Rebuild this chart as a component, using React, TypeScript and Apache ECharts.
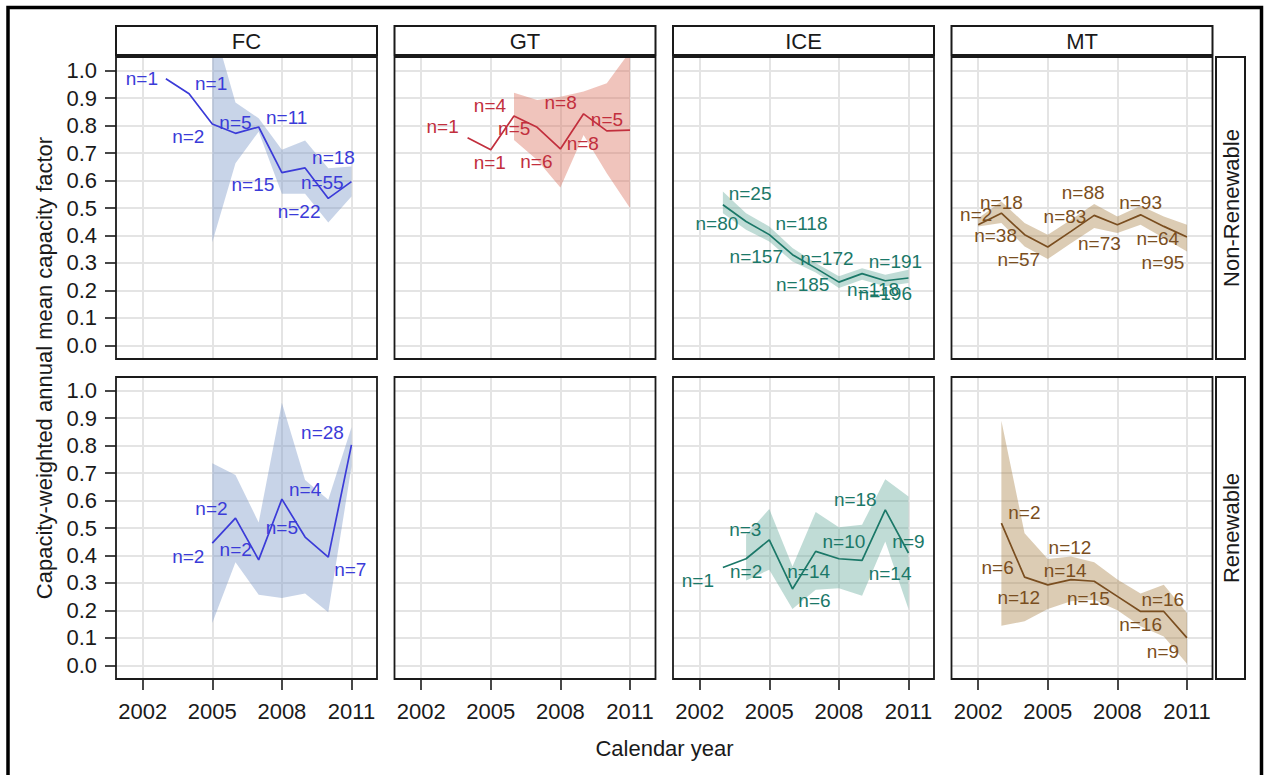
import React, { useEffect, useRef } from "react";
import * as echarts from "echarts";

const FONT = "'Liberation Sans', Arial, Helvetica, sans-serif";

// Facets
const techTypes = ["FC", "GT", "ICE", "MT"];
const resourceGroups = ["Non-Renewable", "Renewable"];
const xTickYears = [2002, 2005, 2008, 2011];
const yTickValues = [0, 0.1, 0.2, 0.3, 0.4, 0.5, 0.6, 0.7, 0.8, 0.9, 1.0];
const xTitle = "Calendar year";
const yTitle = "Capacity-weighted annual mean capacity factor";

// FC, Non-Renewable
const fcNrYears = [2003, 2004, 2005, 2006, 2007, 2008, 2009, 2010, 2011];
const fcNrMean = [0.971, 0.916, 0.806, 0.772, 0.795, 0.629, 0.646, 0.535, 0.596];
const fcNrCount = [1, 1, 2, 5, 11, 15, 22, 55, 18];
const fcNrBandYears = [2005, 2006, 2007, 2008, 2009, 2010, 2011];
const fcNrLower = [0.375, 0.663, 0.778, 0.552, 0.552, 0.447, 0.542];
const fcNrUpper = [1.18, 0.884, 0.827, 0.712, 0.746, 0.645, 0.651];

// GT, Non-Renewable
const gtNrYears = [2004, 2005, 2006, 2007, 2008, 2009, 2010, 2011];
const gtNrMean = [0.756, 0.712, 0.835, 0.794, 0.715, 0.843, 0.781, 0.784];
const gtNrCount = [1, 1, 4, 5, 6, 8, 8, 5];
const gtNrBandYears = [2006, 2007, 2008, 2009, 2010, 2011];
const gtNrLower = [0.748, 0.675, 0.575, 0.766, 0.627, 0.5];
const gtNrUpper = [0.92, 0.893, 0.905, 0.924, 0.954, 1.07];

// ICE, Non-Renewable
const iceNrYears = [2003, 2004, 2005, 2006, 2007, 2008, 2009, 2010, 2011];
const iceNrMean = [0.512, 0.451, 0.403, 0.33, 0.281, 0.23, 0.261, 0.235, 0.245];
const iceNrCount = [80, 25, 157, 118, 185, 172, 118, 196, 191];
const iceNrBandYears = [2003, 2004, 2005, 2006, 2007, 2008, 2009, 2010, 2011];
const iceNrLower = [0.481, 0.421, 0.378, 0.305, 0.265, 0.209, 0.239, 0.215, 0.227];
const iceNrUpper = [0.56, 0.481, 0.433, 0.354, 0.3, 0.251, 0.281, 0.257, 0.275];

// MT, Non-Renewable
const mtNrYears = [2002, 2003, 2004, 2005, 2006, 2007, 2008, 2009, 2010, 2011];
const mtNrMean = [0.439, 0.481, 0.403, 0.358, 0.415, 0.473, 0.439, 0.475, 0.433, 0.394];
const mtNrCount = [2, 18, 38, 57, 83, 88, 73, 93, 64, 95];
const mtNrBandYears = [2002, 2003, 2004, 2005, 2006, 2007, 2008, 2009, 2010, 2011];
const mtNrLower = [0.433, 0.445, 0.36, 0.314, 0.372, 0.427, 0.409, 0.439, 0.391, 0.342];
const mtNrUpper = [0.463, 0.524, 0.445, 0.403, 0.457, 0.515, 0.469, 0.508, 0.469, 0.439];

// FC, Renewable
const fcRYears = [2005, 2006, 2007, 2008, 2009, 2010, 2011];
const fcRMean = [0.445, 0.536, 0.384, 0.605, 0.467, 0.394, 0.803];
const fcRCount = [2, 2, 2, 5, 4, 7, 28];
const fcRBandYears = [2005, 2006, 2007, 2008, 2009, 2010, 2011];
const fcRLower = [0.154, 0.375, 0.257, 0.245, 0.261, 0.193, 0.724];
const fcRUpper = [0.736, 0.693, 0.52, 0.956, 0.675, 0.603, 0.867];

// ICE, Renewable
const iceRYears = [2003, 2004, 2005, 2006, 2007, 2008, 2009, 2010, 2011];
const iceRMean = [0.356, 0.388, 0.457, 0.278, 0.415, 0.388, 0.382, 0.566, 0.409];
const iceRCount = [1, 2, 3, 6, 14, 10, 14, 18, 9];
const iceRBandYears = [2004, 2005, 2006, 2007, 2008, 2009, 2010, 2011];
const iceRLower = [0.309, 0.348, 0.205, 0.275, 0.281, 0.253, 0.451, 0.205];
const iceRUpper = [0.475, 0.569, 0.36, 0.558, 0.503, 0.512, 0.678, 0.615];

// MT, Renewable
const mtRYears = [2003, 2004, 2005, 2006, 2007, 2008, 2009, 2010, 2011];
const mtRMean = [0.518, 0.321, 0.293, 0.312, 0.306, 0.251, 0.196, 0.196, 0.1];
const mtRCount = [2, 6, 12, 12, 14, 15, 16, 16, 9];
const mtRBandYears = [2003, 2004, 2005, 2006, 2007, 2008, 2009, 2010, 2011];
const mtRLower = [0.144, 0.16, 0.205, 0.233, 0.239, 0.2, 0.142, 0.105, 0.006];
const mtRUpper = [0.891, 0.481, 0.387, 0.396, 0.375, 0.312, 0.261, 0.293, 0.19];

// Label pixel offsets (repelled n= labels), relative to each point
const fcNrLabelOffsets = [[-24, 0], [22, -10], [-24, 13], [0, -11], [28, -10], [-29, 12], [-6, 44], [-6, -16], [-18, -24]];
const gtNrLabelOffsets = [[-25, -11], [-1, 13], [-24, -11], [-23, 1], [-24, 13], [-23, -11], [-24, 13], [-23, -11]];
const iceNrLabelOffsets = [[-6, 19], [4, -28], [-13, 22], [9, -31], [-13, 16], [-12, -24], [11, 16], [0, 13], [-13, -17]];
const mtNrLabelOffsets = [[-2, -10], [0, -11], [-29, 1], [-29, 13], [-6, -15], [-11, -23], [-18, 19], [0, -12], [-6, 12], [-24, 25]];
const fcRLabelOffsets = [[-24, 13], [-24, -10], [-23, -10], [0, 28], [0, -48], [22, 12], [-29, -12]];
const iceRLabelOffsets = [[-25, 13], [0, 13], [-24, -10], [22, 12], [-7, 20], [5, -17], [28, 13], [-30, -10], [0, -11]];
const mtRLabelOffsets = [[23, -11], [-27, -10], [-29, 13], [-1, -32], [-29, -11], [-29, 2], [0, 13], [-1, -12], [-24, 14]];

const palette = {
  FC: { line: "#3b3bd8", band: "rgba(118,148,198,0.4)" },
  GT: { line: "#c22f3d", band: "rgba(218,108,88,0.4)" },
  ICE: { line: "#1b7868", band: "rgba(98,168,153,0.4)" },
  MT: { line: "#7a4e20", band: "rgba(168,128,68,0.4)" },
};

type Panel = {
  tech: string;
  row: number;
  years: number[];
  mean: number[];
  count: number[];
  bandYears: number[];
  lower: number[];
  upper: number[];
  offsets: number[][];
};

const panels: Panel[] = [
  { tech: "FC", row: 0, years: fcNrYears, mean: fcNrMean, count: fcNrCount, bandYears: fcNrBandYears, lower: fcNrLower, upper: fcNrUpper, offsets: fcNrLabelOffsets },
  { tech: "GT", row: 0, years: gtNrYears, mean: gtNrMean, count: gtNrCount, bandYears: gtNrBandYears, lower: gtNrLower, upper: gtNrUpper, offsets: gtNrLabelOffsets },
  { tech: "ICE", row: 0, years: iceNrYears, mean: iceNrMean, count: iceNrCount, bandYears: iceNrBandYears, lower: iceNrLower, upper: iceNrUpper, offsets: iceNrLabelOffsets },
  { tech: "MT", row: 0, years: mtNrYears, mean: mtNrMean, count: mtNrCount, bandYears: mtNrBandYears, lower: mtNrLower, upper: mtNrUpper, offsets: mtNrLabelOffsets },
  { tech: "FC", row: 1, years: fcRYears, mean: fcRMean, count: fcRCount, bandYears: fcRBandYears, lower: fcRLower, upper: fcRUpper, offsets: fcRLabelOffsets },
  { tech: "ICE", row: 1, years: iceRYears, mean: iceRMean, count: iceRCount, bandYears: iceRBandYears, lower: iceRLower, upper: iceRUpper, offsets: iceRLabelOffsets },
  { tech: "MT", row: 1, years: mtRYears, mean: mtRMean, count: mtRCount, bandYears: mtRBandYears, lower: mtRLower, upper: mtRUpper, offsets: mtRLabelOffsets },
];

// Layout
const colLefts = [116, 394.5, 673, 951.5];
const panelW = 261;
const rowTops = [57, 377];
const panelH = 302;
const X_MIN = 2000.85;
const X_MAX = 2012.1;
const Y_MIN = -0.05;
const Y_MAX = 1.05;
const TEXT = "#1a1a1a";

function buildOption() {
  const grids: any[] = [];
  const xAxes: any[] = [];
  const yAxes: any[] = [];
  const series: any[] = [];
  const graphics: any[] = [];

  for (let r = 0; r < 2; r++) {
    for (let c = 0; c < 4; c++) {
      const gi = r * 4 + c;
      grids.push({ left: colLefts[c], top: rowTops[r], width: panelW, height: panelH, show: false, containLabel: false });
      xAxes.push({
        type: "value", gridIndex: gi, min: X_MIN, max: X_MAX,
        axisLine: { show: false, onZero: false },
        axisTick: { show: r === 1, length: 11, inside: false, customValues: xTickYears, lineStyle: { color: TEXT, width: 1.6 } },
        axisLabel: { show: r === 1, customValues: xTickYears, margin: 21, fontSize: 22, color: TEXT, fontFamily: FONT, formatter: (v: number) => String(Math.round(v)) },
        splitLine: { show: true, lineStyle: { color: "#e4e4e4", width: 2 } },
      });
      yAxes.push({
        type: "value", gridIndex: gi, min: Y_MIN, max: Y_MAX,
        axisLine: { show: false, onZero: false },
        axisTick: { show: c === 0, length: 11, inside: false, customValues: yTickValues, lineStyle: { color: TEXT, width: 1.6 } },
        axisLabel: { show: c === 0, customValues: yTickValues, margin: 19, fontSize: 22, color: TEXT, fontFamily: FONT, formatter: (v: number) => v.toFixed(1) },
        splitLine: { show: true, lineStyle: { color: "#e4e4e4", width: 2 } },
      });
      // panel border
      graphics.push({
        type: "rect", z: 100, silent: true,
        shape: { x: colLefts[c], y: rowTops[r], width: panelW, height: panelH },
        style: { fill: "none", stroke: TEXT, lineWidth: 1.8 },
      });
    }
  }

  panels.forEach((p) => {
    const c = techTypes.indexOf(p.tech);
    const gi = p.row * 4 + c;
    const col = (palette as any)[p.tech];
    const bYears = p.bandYears, lo = p.lower, up = p.upper;
    series.push({
      type: "custom", xAxisIndex: gi, yAxisIndex: gi, silent: true, clip: true, z: 1,
      data: bYears.map((y, i) => [y, lo[i], up[i]]),
      encode: { x: 0, y: [1, 2] },
      renderItem: (params: any, api: any) => {
        if (params.dataIndex !== 0) return { type: "group", children: [] };
        const top = bYears.map((y, i) => api.coord([y, up[i]]));
        const bottom = bYears.map((y, i) => api.coord([y, lo[i]])).reverse();
        const cs = params.coordSys;
        return {
          type: "polygon",
          shape: { points: top.concat(bottom) },
          style: { fill: col.band },
          clipPath: { type: "rect", shape: { x: cs.x, y: cs.y, width: cs.width, height: cs.height } },
        };
      },
    });
    series.push({
      type: "line", xAxisIndex: gi, yAxisIndex: gi, silent: true, clip: true, z: 3,
      symbol: "none", showSymbol: false,
      lineStyle: { color: col.line, width: 1.7 },
      data: p.years.map((y, i) => [y, p.mean[i]]),
    });
    series.push({
      type: "scatter", xAxisIndex: gi, yAxisIndex: gi, silent: true, z: 4,
      symbol: "circle", symbolSize: 1,
      itemStyle: { color: "rgba(0,0,0,0)", opacity: 1 },
      label: { show: true, position: "inside", formatter: "{b}", color: col.line, opacity: 1, fontSize: 19, fontFamily: FONT },
      data: p.years.map((y, i) => ({ name: "n=" + p.count[i], value: [y, p.mean[i]], label: { offset: p.offsets[i] } })),
    });
  });

  // Outer frame
  graphics.push({
    type: "rect", z: 100, silent: true,
    shape: { x: 8, y: 7.5, width: 1253.5, height: 820 },
    style: { fill: "none", stroke: "#000", lineWidth: 3.5 },
  });
  // Top strips
  techTypes.forEach((t, c) => {
    graphics.push({
      type: "rect", z: 90, silent: true,
      shape: { x: colLefts[c], y: 26, width: panelW, height: 29 },
      style: { fill: "#ffffff", stroke: TEXT, lineWidth: 2 },
    });
    graphics.push({
      type: "text", z: 95, silent: true,
      x: colLefts[c] + panelW / 2, y: 41,
      style: { text: t, fill: TEXT, fontSize: 22, fontFamily: FONT, align: "center", verticalAlign: "middle" },
    });
  });
  // Right strips
  resourceGroups.forEach((g, r) => {
    graphics.push({
      type: "rect", z: 90, silent: true,
      shape: { x: 1216, y: rowTops[r], width: 29, height: panelH },
      style: { fill: "#ffffff", stroke: TEXT, lineWidth: 2 },
    });
    graphics.push({
      type: "text", z: 95, silent: true,
      x: 1231, y: rowTops[r] + panelH / 2, rotation: Math.PI / 2,
      style: { text: g, fill: TEXT, fontSize: 22, fontFamily: FONT, align: "center", verticalAlign: "middle" },
    });
  });
  // Axis titles
  graphics.push({
    type: "text", z: 95, silent: true,
    x: 664.5, y: 748,
    style: { text: xTitle, fill: TEXT, fontSize: 22, fontFamily: FONT, align: "center", verticalAlign: "middle" },
  });
  graphics.push({
    type: "text", z: 95, silent: true,
    x: 44, y: 368, rotation: Math.PI / 2,
    style: { text: yTitle, fill: TEXT, fontSize: 22, fontFamily: FONT, align: "center", verticalAlign: "middle" },
  });

  return {
    animation: false,
    backgroundColor: "#ffffff",
    grid: grids,
    xAxis: xAxes,
    yAxis: yAxes,
    series,
    graphic: { elements: graphics },
  };
}

export default function App() {
  const ref = useRef<HTMLDivElement>(null);
  useEffect(() => {
    if (!ref.current) return;
    const chart = echarts.init(ref.current, undefined, { renderer: "svg" });
    chart.setOption(buildOption() as any);
    return () => chart.dispose();
  }, []);
  return <div ref={ref} style={{ position: "absolute", left: 0, top: 0, width: 1264, height: 775 }} />;
}
